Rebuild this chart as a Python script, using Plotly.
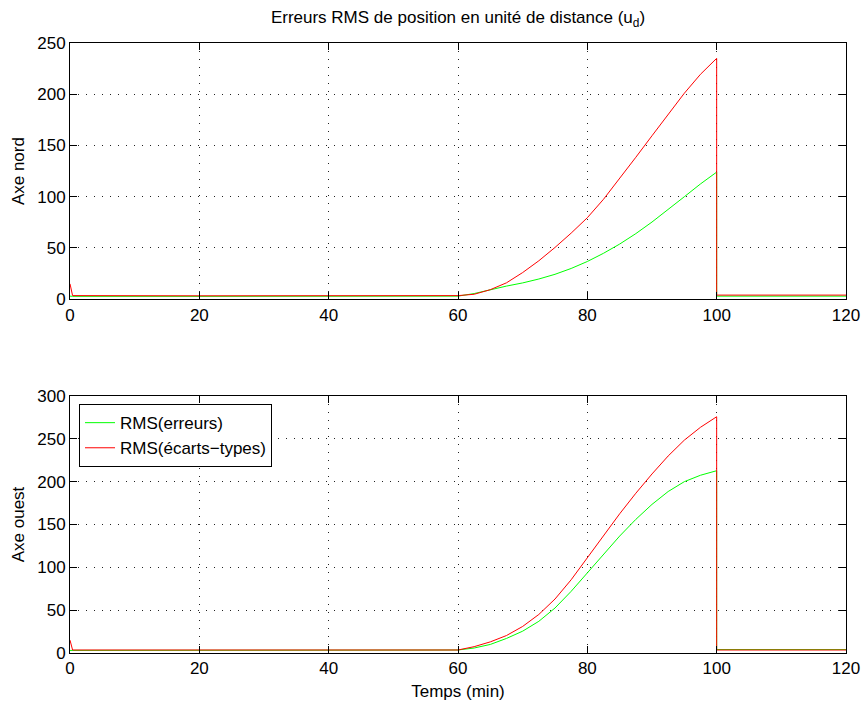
import plotly.graph_objects as go

# Time axis (min)
t = [0, 0.4, 20, 40, 60, 62.5, 65, 67.5, 70, 72.5, 75, 77.5, 80, 82.5, 85,
     87.5, 90, 92.5, 95, 97.5, 100, 100, 110, 120]

# Axe nord
nord_erreurs = [3, 2.8, 2.8, 3, 3, 5.5, 9.5, 12.8, 15.9, 19.7, 24.3, 30, 36.8, 44.8, 53.8,
                64, 75.3, 87.3, 100, 112.5, 124, 3, 3, 3]
nord_ecarts = [15, 3.5, 3.3, 3.5, 3.5, 4.8, 9.3, 16, 26, 37.5, 50.5, 64.5, 79.5, 97.5, 117.5,
               138.5, 159.5, 180.5, 201, 219.5, 235, 4, 4, 4]

# Axe ouest
ouest_erreurs = [3, 3, 3, 3, 3.5, 5.8, 10, 17, 25.5, 37, 52.5, 72, 93.5, 115.5, 136.5,
                 156, 173.5, 188.5, 200, 207.5, 212.8, 4, 4, 4]
ouest_ecarts = [15, 3.5, 3.5, 3.5, 3.5, 7.4, 13, 20.4, 31, 45, 63, 85.5, 111, 137.5, 162.5,
                186.5, 209, 230, 248.5, 263.5, 275.8, 3.5, 3.5, 3.5]

x_ticks = [0, 20, 40, 60, 80, 100, 120]
nord_ticks = [0, 50, 100, 150, 200, 250]
ouest_ticks = [0, 50, 100, 150, 200, 250, 300]

GREEN = "#00ff00"
RED = "#ff0000"
FONT = "Liberation Sans, Arial, sans-serif"
FS = 17

W, H = 862, 704

fig = go.Figure()
fig.add_trace(go.Scatter(x=t, y=nord_erreurs, mode="lines", line=dict(color=GREEN, width=1),
                         xaxis="x", yaxis="y", showlegend=False))
fig.add_trace(go.Scatter(x=t, y=nord_ecarts, mode="lines", line=dict(color=RED, width=1),
                         xaxis="x", yaxis="y", showlegend=False))
fig.add_trace(go.Scatter(x=t, y=ouest_erreurs, mode="lines", line=dict(color=GREEN, width=1),
                         xaxis="x2", yaxis="y2", name="RMS(erreurs)"))
fig.add_trace(go.Scatter(x=t, y=ouest_ecarts, mode="lines", line=dict(color=RED, width=1),
                         xaxis="x2", yaxis="y2", name="RMS(écarts−types)"))

axis_common = dict(
    showline=True, linecolor="black", linewidth=1, mirror="ticks",
    ticks="inside", ticklen=7, tickcolor="black", tickwidth=1,
    showgrid=True, gridcolor="#222222", gridwidth=1, griddash="1px,7px",
    zeroline=False, automargin=False, ticklabeloverflow="allow",
    tickfont=dict(family=FONT, size=FS, color="black"),
)

fig.update_layout(
    width=W, height=H,
    margin=dict(l=70, r=16, t=43, b=51),
    paper_bgcolor="white", plot_bgcolor="white",
    font=dict(family=FONT, size=FS, color="black"),
    title=dict(text="Erreurs RMS de position en unité de distance (u<sub>d</sub>)",
               x=0.5, xref="paper", y=1 - 17 / H, yref="container",
               xanchor="center", yanchor="middle",
               font=dict(family=FONT, size=FS, color="black")),
    xaxis=dict(domain=[0, 1], range=[0, 120], tickvals=x_ticks, anchor="y", **axis_common),
    yaxis=dict(domain=[0.58, 1], range=[0, 250], tickvals=nord_ticks, anchor="x",
               title=dict(text="Axe nord", standoff=8, font=dict(family=FONT, size=FS)),
               **axis_common),
    xaxis2=dict(domain=[0, 1], range=[0, 120], tickvals=x_ticks, anchor="y2",
                title=dict(text="Temps (min)", standoff=7, font=dict(family=FONT, size=FS)),
                **axis_common),
    yaxis2=dict(domain=[0, 0.4213], range=[0, 300], tickvals=ouest_ticks, anchor="x2",
                title=dict(text="Axe ouest", standoff=8, font=dict(family=FONT, size=FS)),
                **axis_common),
    legend=dict(x=0.0116, y=0.408, xanchor="left", yanchor="top",
                bgcolor="white", bordercolor="black", borderwidth=1,
                font=dict(family=FONT, size=FS, color="black"),
                tracegroupgap=0, itemwidth=30),
)

# remove the default page margin so the figure sits at the window origin
page_fix = ("document.documentElement.style.margin='0';"
            "document.body.style.margin='0';"
            "document.documentElement.style.overflow='hidden';"
            "document.body.style.overflow='hidden';")

fig.write_html("out.html", post_script=page_fix, config={"displayModeBar": False})
